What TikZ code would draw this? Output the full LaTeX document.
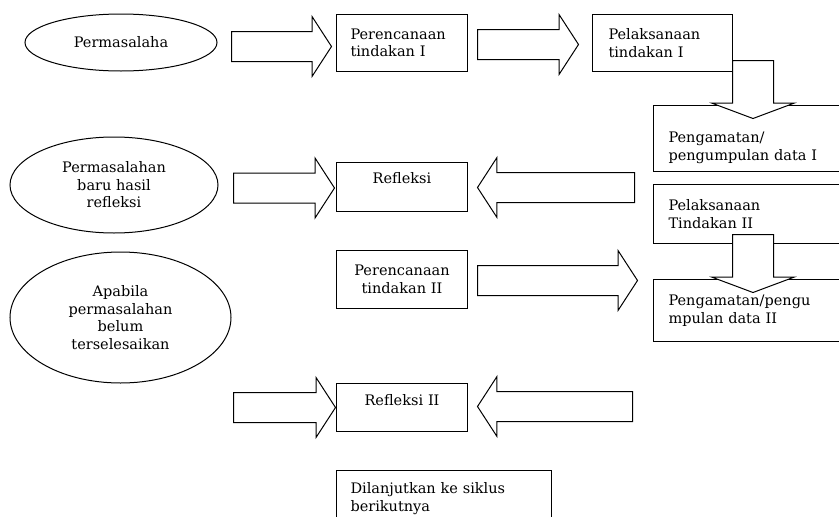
\documentclass[tikz,border=0pt]{standalone}
\usepackage{fontspec}
\setmainfont{DejaVu Serif}
\usetikzlibrary{shapes.geometric,shapes.arrows}

\begin{document}
\begin{tikzpicture}[x=1pt,y=-1pt,
  teks/.style={font=\fontsize{14.5}{17.5}\selectfont},
  oval/.style={teks,shape=ellipse,draw=black,line width=1pt,inner sep=0pt,align=center},
  kotak/.style={teks,shape=rectangle,draw=black,line width=1pt,anchor=north west,inner ysep=0pt,inner xsep=14pt,text width=103pt,minimum width=131pt},
  kotakkanan/.style={kotak,inner xsep=15pt,text width=172pt,minimum width=202pt,align=left},
  panah/.style={shape=single arrow,draw=black,fill=white,line width=1pt,anchor=tail,inner xsep=0pt,inner ysep=14.5pt,single arrow head extend=15pt,minimum width=59pt,single arrow tip angle=114},
  panahturun/.style={panah,rotate=-90,inner ysep=20pt,single arrow head extend=20.5pt,minimum width=81pt,single arrow tip angle=139}]
\useasboundingbox (0,0) rectangle (839,517);
\clip (0,0) rectangle (839,517);
\node[oval,minimum width=192pt,minimum height=57pt] (permasalahan) at (121,42.5) {Permasalaha};
\node[kotak,minimum height=57pt,align=left] (rencana1) at (336,14) {Perencanaan\\tindakan I};
\node[kotak,minimum height=57pt,inner xsep=16pt,text width=108pt,minimum width=140pt,align=left] (laksana1) at (592,14) {Pelaksanaan\\tindakan I};
\node[kotakkanan,minimum height=66pt,text height=29pt] (amati1) at (653,105) {Pengamatan/\\pengumpulan data I};
\node[kotakkanan,minimum height=59pt] (laksana2) at (653,184) {Pelaksanaan\\Tindakan II};
\node[kotakkanan,minimum height=62pt] (amati2) at (653,279) {Pengamatan/pengu\\mpulan data II};
\node[oval,minimum width=208pt,minimum height=96pt] (masalahbaru) at (114,185) {Permasalahan\\baru hasil\\refleksi};
\node[kotak,minimum height=49pt,align=center,text depth=18pt] (refleksi1) at (336,162) {Refleksi};
\node[oval,minimum width=221pt,minimum height=131pt] (belumselesai) at (120.5,317.5) {Apabila\\permasalahan\\belum\\terselesaikan};
\node[kotak,minimum height=58pt,align=center] (rencana2) at (336,250) {Perencanaan\\tindakan II};
\node[kotak,minimum height=48pt,align=center,text depth=15pt] (refleksi2) at (336,383) {Refleksi II};
\node[kotak,minimum height=56pt,text width=187pt,minimum width=215pt,align=left] (lanjut) at (336,470) {Dilanjutkan ke siklus\\berikutnya};
% panah blok
\node[panah,minimum height=100pt] (panah1) at (231,46.5) {};
\node[panah,minimum height=101pt] (panah2) at (477,44.5) {};
\node[panahturun,minimum height=58pt] (turun1) at (753,60) {};
\node[panah,rotate=180,minimum height=157pt] (panah3) at (635,187.5) {};
\node[panah,minimum height=101pt] (panah4) at (233,188) {};
\node[panahturun,minimum height=58pt] (turun2) at (753,234) {};
\node[panah,minimum height=160pt] (panah5) at (477,280.5) {};
\node[panah,minimum height=102pt] (panah6) at (233,407.5) {};
\node[panah,rotate=180,minimum height=155pt] (panah7) at (633,406.5) {};
\end{tikzpicture}
\end{document}
